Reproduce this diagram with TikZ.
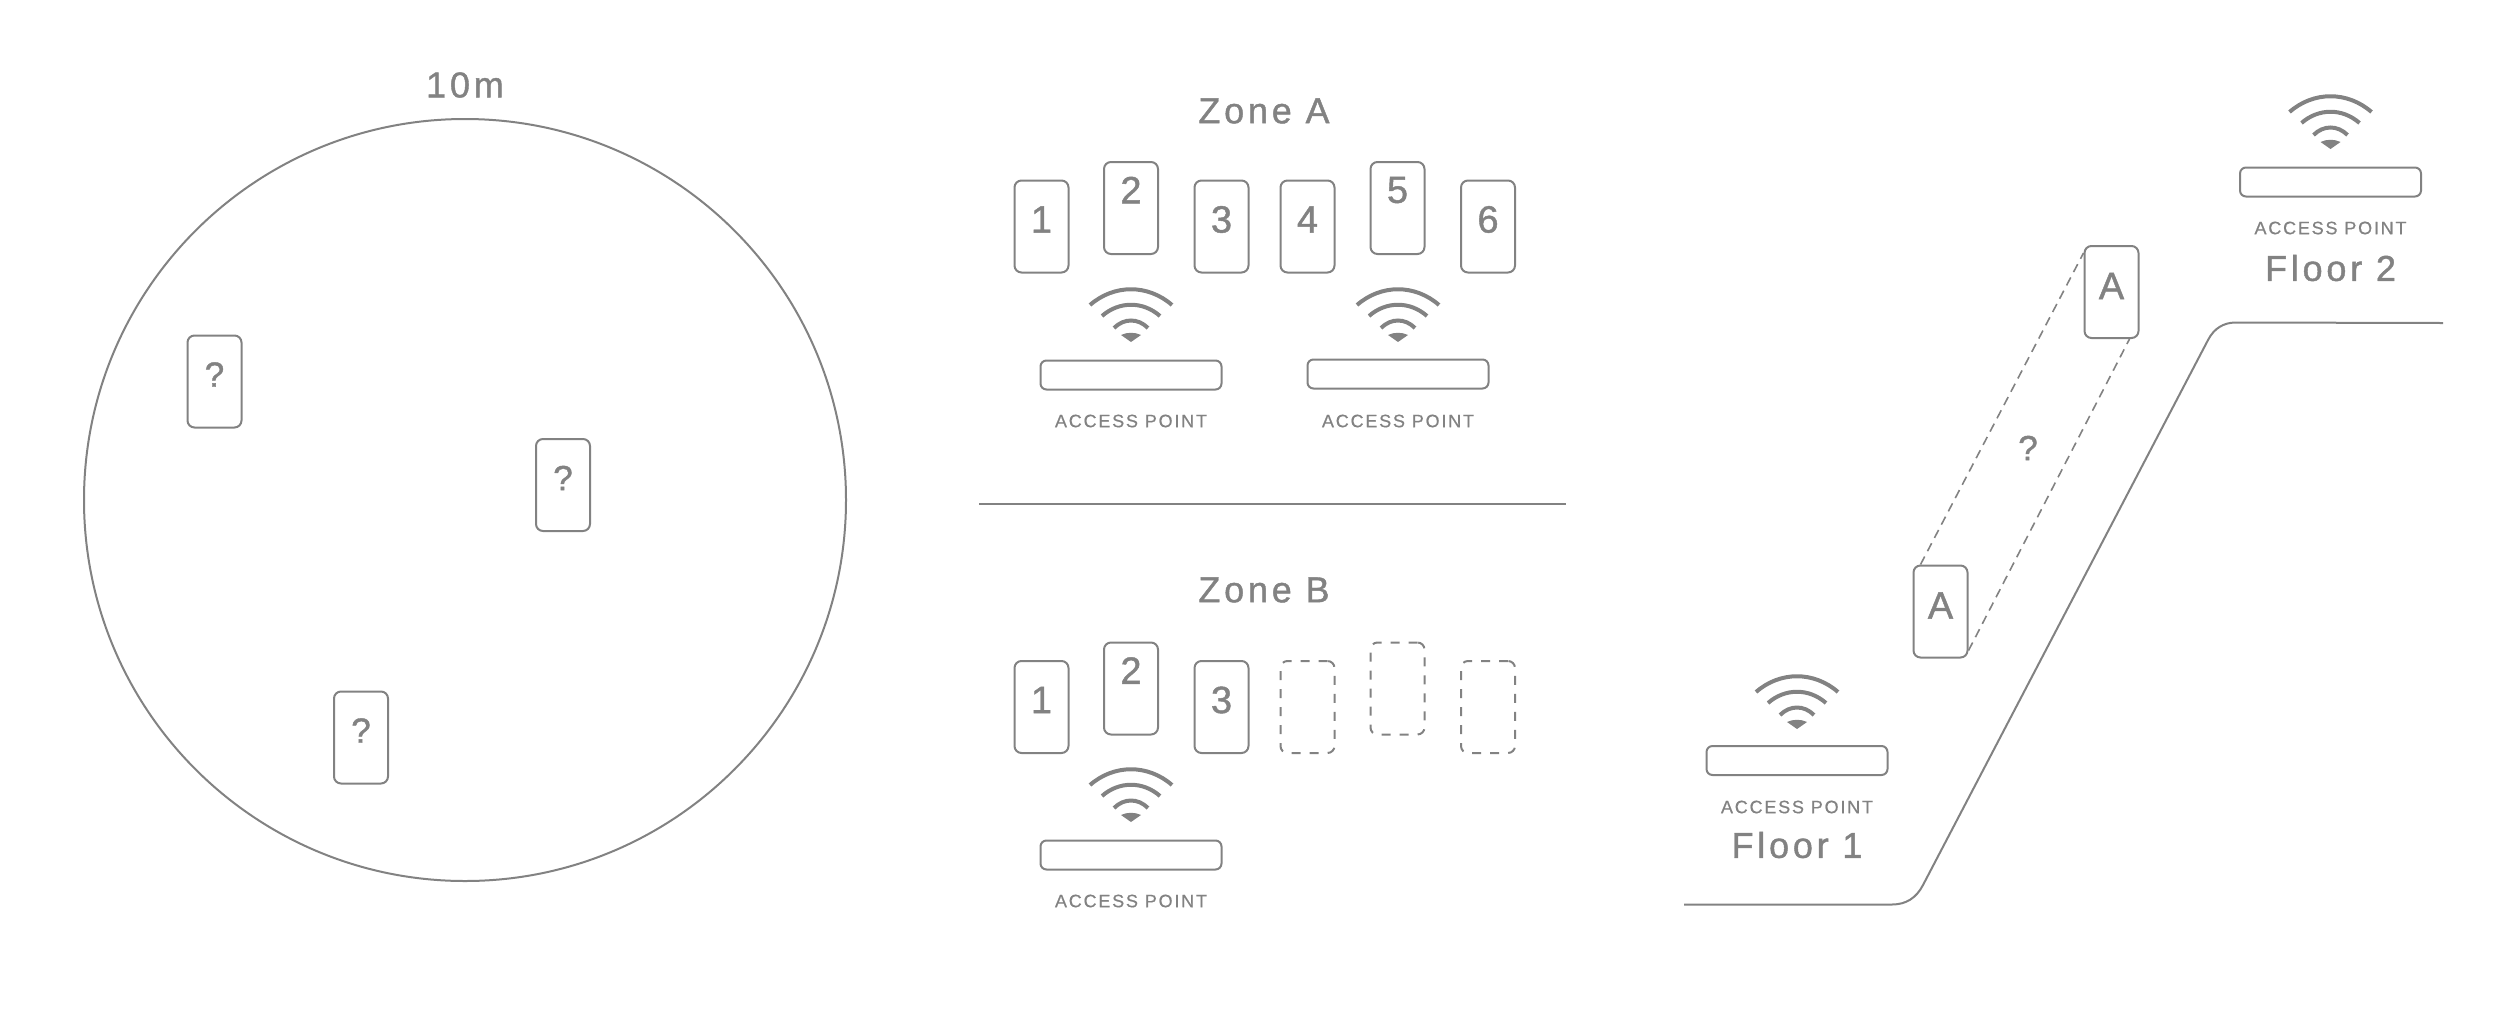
\documentclass[tikz,border=0pt]{standalone}
\usetikzlibrary{calc}
\usepackage{fontspec}
\setmainfont[FakeBold=1.2]{Liberation Sans}
\newfontfamily\lsfont[LetterSpace=10.5,FakeBold=1.2]{Liberation Sans}
\newfontfamily\apfont[LetterSpace=10,FakeBold=0.6]{Liberation Sans}
\definecolor{ink}{HTML}{828282}
\tikzset{
  phone/.style={draw=ink,line width=2pt,rounded corners=7pt,minimum width=54pt,minimum height=92pt,inner sep=0pt},
  ghost/.style={phone,dashed,dash pattern=on 9pt off 9pt},
  apbox/.style={draw=ink,line width=2pt,rounded corners=6pt,minimum width=181pt,minimum height=29pt,inner sep=0pt},
  digit/.style={text=ink,font=\fontsize{38}{38}\selectfont,inner sep=0pt},
  qmark/.style={text=ink,font=\fontsize{35}{35}\selectfont,inner sep=0pt},
  heading/.style={text=ink,font=\fontsize{36}{36}\lsfont,inner sep=0pt},
  aplabel/.style={text=ink,font=\fontsize{18}{18}\apfont,inner sep=0pt},
  wave/.style={draw=ink,line width=4pt},
  edge/.style={draw=ink,line width=2pt},
  guide/.style={draw=ink,line width=1.6pt,dash pattern=on 9pt off 6pt}
}
% wifi symbol: #1 = x centre, #2 = y of the bottom tip
\newcommand{\wifimark}[2]{%
  \begin{scope}[shift={(#1,#2)}]
    \fill[ink] (0,0) -- (-10,-7) .. controls (-4,-10) and (4,-10) .. (10,-7) -- cycle;
    \draw[wave] (-17,-14) .. controls (-7,-24) and (7,-24) .. (17,-14);
    \draw[wave] (-29,-26) .. controls (-12,-41) and (12,-41) .. (29,-26);
    \draw[wave] (-41,-37) .. controls (-17,-58) and (17,-58) .. (41,-37);
  \end{scope}}
\begin{document}
\begin{tikzpicture}[x=1pt,y=-1pt]
\useasboundingbox (0,0) rectangle (2500,1021);
% circle panel
\node[draw=ink,line width=2pt,circle,minimum size=762pt,inner sep=0pt] (range) at (465,500) {};
\node[heading] (rangelabel) at (465,85) {10m};
\node[phone,label={[qmark,yshift=7pt]center:?}] (q1) at (214.5,381.5) {};
\node[phone,label={[qmark,yshift=7pt]center:?}] (q2) at (563,485) {};
\node[phone,label={[qmark,yshift=7pt]center:?}] (q3) at (361,737.5) {};
% zone A
\node[heading] (zonea) at (1264,111) {Zone A};
\node[phone,label={[digit,yshift=7pt]center:1}] (a1) at (1041.5,226.5) {};
\node[phone,label={[digit,yshift=18pt]center:2}] (a2) at (1131,208) {};
\node[phone,label={[digit,yshift=7pt]center:3}] (a3) at (1221.5,226.5) {};
\node[phone,label={[digit,yshift=7pt]center:4}] (a4) at (1307.5,226.5) {};
\node[phone,label={[digit,yshift=18pt]center:5}] (a5) at (1397.5,208) {};
\node[phone,label={[digit,yshift=7pt]center:6}] (a6) at (1488,226.5) {};
\wifimark{1131}{342}
\wifimark{1398}{342}
\node[apbox] (apa1) at (1131,375) {};
\node[apbox] (apa2) at (1398,374) {};
\node[aplabel] (apa1l) at (1131,421) {ACCESS POINT};
\node[aplabel] (apa2l) at (1398,421) {ACCESS POINT};
\coordinate (divl) at (979,504);
\coordinate (divr) at (1566,504);
\draw[edge] (divl) -- (divr);
% zone B
\node[heading] (zoneb) at (1264,590) {Zone B};
\node[phone,label={[digit,yshift=7pt]center:1}] (b1) at (1041.5,707) {};
\node[phone,label={[digit,yshift=18pt]center:2}] (b2) at (1131,688.5) {};
\node[phone,label={[digit,yshift=7pt]center:3}] (b3) at (1221.5,707) {};
\node[ghost] (b4) at (1307.5,707) {};
\node[ghost] (b5) at (1397.5,688.5) {};
\node[ghost] (b6) at (1488,707) {};
\wifimark{1131}{822}
\node[apbox] (apb) at (1131,855) {};
\node[aplabel] (apbl) at (1131,901) {ACCESS POINT};
% floors
\coordinate (g1) at (1684,904.5);
\coordinate (g2) at (1892,904.5);
\coordinate (g3) at (1923,885);
\coordinate (g4) at (2208,340);
\coordinate (g5) at (2236,322.5);
\coordinate (g6) at (2443,323);
\draw[edge] (g1) -- (g2) .. controls (1906,904.5) and (1916.3,898) .. (g3) -- (g4) .. controls (2214,328.5) and (2223.3,322.5) .. (g5) -- (g6);
\wifimark{1797}{729}
\node[apbox] (apf1) at (1797,760.5) {};
\node[aplabel] (apf1l) at (1797,807) {ACCESS POINT};
\node[heading] (floor1) at (1797,845) {Floor 1};
\wifimark{2330.5}{149}
\node[apbox] (apf2) at (2330.5,182) {};
\node[aplabel] (apf2l) at (2330.5,228) {ACCESS POINT};
\node[heading] (floor2) at (2330.5,268) {Floor 2};
\node[phone,label={[digit,yshift=6pt]center:A}] (pa2) at (2111.5,292) {};
\node[phone,label={[digit,yshift=6pt]center:A}] (pa1) at (1940.5,611.5) {};
\coordinate (d1) at ($(pa1.north west)+(8,0)$);
\coordinate (d2) at ($(pa2.north west)+(0,8)$);
\coordinate (d3) at ($(pa1.south east)+(0,-8)$);
\coordinate (d4) at ($(pa2.south east)+(-10,0)$);
\draw[guide] (d1) -- (d2);
\draw[guide] (d3) -- (d4);
\node[qmark] (qgap) at (2028,448) {?};
\end{tikzpicture}
\end{document}
